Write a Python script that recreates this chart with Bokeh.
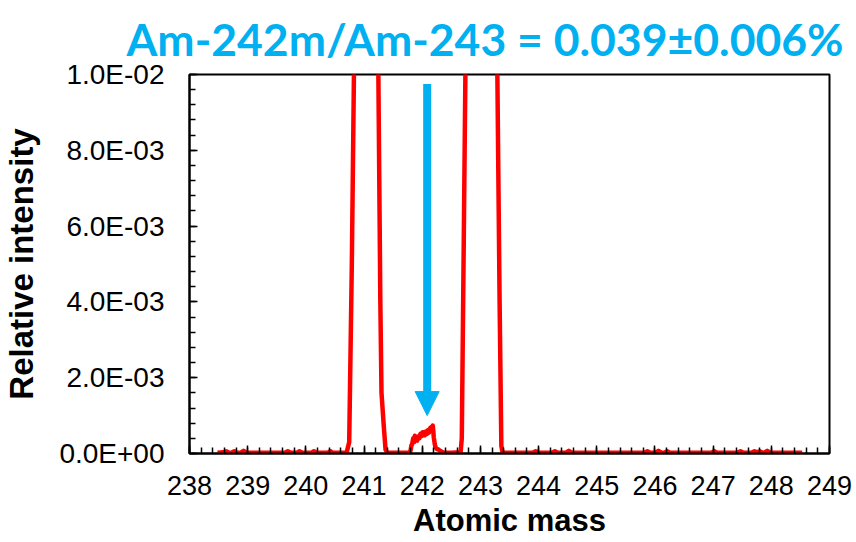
from bokeh.plotting import figure
from bokeh.models import (Range1d, Arrow, NormalHead, CustomJSTickFormatter,
                          SingleIntervalTicker)
from bokeh.embed import file_html
from bokeh.resources import INLINE

# ---------------- data ----------------
title_text = "Am-242m/Am-243 = 0.039±0.006%"
x_label = "Atomic mass"
y_label = "Relative intensity"

# baseline left of Am-241
mass_a = [238.48, 238.58, 238.63, 238.68, 238.72, 238.77, 238.82, 238.88, 238.93,
          238.98, 239.30, 239.64, 239.69, 239.74, 239.85, 239.89, 239.94, 240.10,
          240.14, 240.19, 240.38, 240.42, 240.46, 240.70]
int_a = [0.00002, 0.00003, 0.00006, 0.00002, 0.00002, 0.00006, 0.00002, 0.00002, 0.00007,
         0.00002, 0.00002, 0.00002, 0.00006, 0.00002, 0.00002, 0.00006, 0.00002, 0.00002,
         0.00006, 0.00002, 0.00002, 0.00006, 0.00002, 0.00002]

# Am-241 peak (off scale)
mass_b = [240.745, 240.79, 240.83, 240.90, 241.00, 241.10, 241.20, 241.245,
          241.28, 241.30, 241.34, 241.37, 241.40, 241.60, 241.78]
int_b = [0.0003, 0.005, 0.0105, 0.05, 0.5, 0.5, 0.05, 0.0102,
         0.004, 0.0016, 0.0007, 0.0001, 0.00002, 0.00002, 0.00002]

# Am-242m peak
mass_c = [241.80, 241.815, 241.827, 241.845, 241.86, 241.873, 241.89, 241.913,
          241.93, 241.95, 241.97, 241.99, 242.005, 242.027, 242.045, 242.06,
          242.084, 242.10, 242.115, 242.124, 242.14, 242.158, 242.17, 242.181,
          242.19, 242.198, 242.215, 242.227, 242.25, 242.284, 242.32, 242.37,
          242.50, 242.66]
int_c = [0.00008, 0.00022, 0.00025, 0.00040, 0.00030, 0.00047, 0.00036, 0.00034,
         0.00045, 0.00040, 0.00052, 0.00046, 0.00056, 0.00056, 0.00048, 0.00058,
         0.00052, 0.00062, 0.00055, 0.00060, 0.00068, 0.00070, 0.00062, 0.00074,
         0.00060, 0.00043, 0.00025, 0.00017, 0.00012, 0.00010, 0.00006, 0.00002,
         0.00002, 0.00003]

# Am-243 peak (off scale)
mass_d = [242.68, 242.71, 242.745, 242.85, 243.00, 243.20, 243.29, 243.33,
          243.36, 243.38]
int_d = [0.0004, 0.005, 0.0105, 0.1, 1.0, 0.1, 0.0102, 0.004,
         0.0002, 0.00002]

# baseline right of Am-243
mass_e = [243.60, 243.90, 243.95, 244.00, 244.23, 244.28, 244.33, 244.47, 244.52,
          244.57, 245.00, 245.82, 245.87, 245.92, 246.01, 246.06, 246.11, 246.16,
          246.21, 246.26, 246.97, 247.02, 247.07, 247.42, 247.47, 247.52, 247.66,
          247.71, 247.75, 247.80, 247.85, 247.88, 247.93, 247.98, 248.20, 248.53]
int_e = [0.00002, 0.00002, 0.00006, 0.00002, 0.00002, 0.00006, 0.00002, 0.00002, 0.00007,
         0.00002, 0.00002, 0.00002, 0.00006, 0.00002, 0.00002, 0.00007, 0.00002, 0.00002,
         0.00006, 0.00002, 0.00002, 0.00006, 0.00002, 0.00002, 0.00006, 0.00002, 0.00002,
         0.00006, 0.00003, 0.00006, 0.00002, 0.00002, 0.00007, 0.00002, 0.00002, 0.00002]

mass = mass_a + mass_b + mass_c + mass_d + mass_e
intensity = int_a + int_b + int_c + int_d + int_e

x_min, x_max = 238, 249
y_min, y_max = 0.0, 0.01

arrow_x = 242.085
arrow_y_start = 0.00975
arrow_y_end = 0.001

# ---------------- figure ----------------
p = figure(width=856, height=542, output_backend="svg", toolbar_location=None,
           x_range=Range1d(x_min, x_max), y_range=Range1d(y_min, y_max),
           min_border_left=186, min_border_right=27, min_border_top=73,
           min_border_bottom=89)
p.background_fill_color = "white"
p.border_fill_color = "white"
p.xgrid.visible = False
p.ygrid.visible = False
p.outline_line_color = "black"
p.outline_line_width = 2
p.outline_line_alpha = 1.0

p.title.text = title_text
p.title.text_font = "Lato"
p.title.text_font_style = "bold"
p.title.text_font_size = "44.5px"
p.title.text_color = "#00B0F0"
p.title.align = "left"
p.title.offset = -63
p.title.standoff = 19

p.xaxis.ticker = SingleIntervalTicker(interval=1, num_minor_ticks=5)
p.yaxis.ticker = SingleIntervalTicker(interval=0.002, num_minor_ticks=5)
p.yaxis.formatter = CustomJSTickFormatter(code="""
const s = tick.toExponential(1).toUpperCase();
return s.replace(/E([+-])(\\d)$/, (m, a, b) => "E" + a + "0" + b);
""")

for ax in (p.xaxis[0], p.yaxis[0]):
    ax.axis_line_color = "black"
    ax.axis_line_width = 2
    ax.major_tick_in = 8
    ax.major_tick_out = 0
    ax.minor_tick_in = 6
    ax.minor_tick_out = 0
    ax.major_tick_line_color = "black"
    ax.minor_tick_line_color = "black"
    ax.major_tick_line_width = 1.5
    ax.minor_tick_line_width = 1.5
    ax.major_label_text_font = "Liberation Sans"
    ax.major_label_text_color = "black"
    ax.axis_label_text_font = "Liberation Sans"
    ax.axis_label_text_font_style = "bold"
    ax.axis_label_text_color = "black"

p.xaxis.major_label_text_font_size = "27px"
p.yaxis.major_label_text_font_size = "28px"
p.xaxis.axis_label_text_font_size = "31px"
p.yaxis.axis_label_text_font_size = "33px"
p.xaxis.axis_label = x_label
p.yaxis.axis_label = y_label
p.xaxis.major_label_standoff = 22
p.xaxis.axis_label_standoff = 5
p.yaxis.major_label_standoff = 25
p.yaxis.axis_label_standoff = 16

p.line(mass, intensity, line_color="#FF0000", line_width=4.5, line_join="round")

p.add_layout(Arrow(end=NormalHead(size=24, fill_color="#00B0F0", line_color="#00B0F0",
                                  line_width=1),
                   x_start=arrow_x, y_start=arrow_y_start,
                   x_end=arrow_x, y_end=arrow_y_end,
                   line_color="#00B0F0", line_width=8))

open("out.html", "w").write(file_html(p, INLINE))
